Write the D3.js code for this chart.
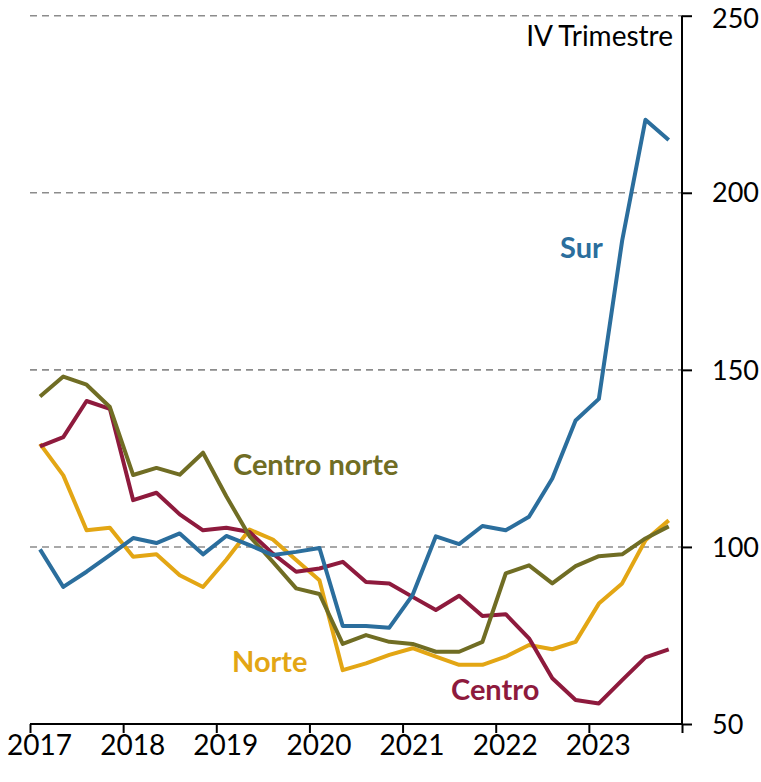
<!DOCTYPE html>
<html>
<head>
<meta charset="utf-8">
<script src="https://cdn.jsdelivr.net/npm/d3@7"></script>
<style>
  body { margin: 0; background: #fff; }
  text { font-family: Lato, "Open Sans", sans-serif; }
</style>
</head>
<body>
<div id="app"></div>
<script>
// quarters 2017Q1 .. 2023Q4
const years = [2017, 2018, 2019, 2020, 2021, 2022, 2023];
const yTicks = [50, 100, 150, 200, 250];

const sur = [99.3, 88.7, 93, 97.7, 102.5, 101.1, 103.8, 97.9, 103.1, 100.5, 97.7, 98.6, 99.7, 77.7,
  77.7, 77.2, 86.4, 103, 100.8, 105.9, 104.7, 108.5, 119.3, 135.7, 141.8, 186.5, 220.6, 214.9];
const centroNorte = [142.5, 148.1, 145.8, 139.5, 120.3, 122.3, 120.4, 126.6, 114.3, 103, 95.8, 88.3, 86.7, 72.6,
  75.1, 73.2, 72.6, 70.4, 70.4, 73.2, 92.5, 94.8, 89.7, 94.6, 97.4, 97.9, 102.4, 105.8];
const centro = [128.4, 131, 141.2, 139, 113.2, 115.3, 109.2, 104.7, 105.4, 104.2, 98.1, 93, 93.9, 95.8,
  90.1, 89.7, 85.9, 82.2, 86.2, 80.5, 81, 74.2, 62.9, 56.8, 55.8, 62.4, 68.8, 71.1];
const norte = [129.1, 120.2, 104.7, 105.4, 97.2, 97.9, 92, 88.7, 96.4, 104.9, 102.1, 96.3, 90.6, 65.2,
  67.1, 69.5, 71.4, 69, 66.7, 66.7, 69, 72.3, 71.1, 73.2, 84, 89.7, 101.9, 107.5];

const series = [
  { name: "Norte", values: norte, color: "#E3A614", label: [232, 672] },
  { name: "Centro", values: centro, color: "#8E1A3D", label: [451, 700] },
  { name: "Centro norte", values: centroNorte, color: "#706D24", label: [233, 475] },
  { name: "Sur", values: sur, color: "#2B6E9D", label: [560, 258] }
];

const W = 761, H = 782;
const svg = d3.select("#app").append("svg").attr("width", W).attr("height", H);

const x = d3.scaleLinear().domain([0, 28]).range([30, 682]);
const y = d3.scaleLinear().domain([50, 250]).range([724, 15.7]);

// dashed grid
svg.append("g")
  .selectAll("line")
  .data(yTicks.filter((d) => d > 50))
  .enter()
  .append("line")
  .attr("x1", x(0)).attr("x2", x(28))
  .attr("y1", (d) => y(d)).attr("y2", (d) => y(d))
  .attr("stroke", "#8c8c8c").attr("stroke-width", 1.6)
  .attr("stroke-dasharray", "7,5");

// lines
const line = d3.line()
  .x((d, i) => x(i + 0.43))
  .y((d) => y(d));

series.forEach((s) => {
  svg.append("path")
    .datum(s.values)
    .attr("d", line)
    .attr("fill", "none")
    .attr("stroke", s.color)
    .attr("stroke-width", 4)
    .attr("stroke-linejoin", "round");
  svg.append("text")
    .attr("x", s.label[0]).attr("y", s.label[1])
    .attr("fill", s.color)
    .attr("font-size", 29)
    .attr("font-weight", "bold")
    .text(s.name);
});

// bottom axis
const xAxis = d3.axisBottom(x)
  .tickValues(years.map((d, i) => i * 4).concat([28]))
  .tickSize(9)
  .tickFormat((d) => (d < 28 ? years[d / 4] : ""));
const gx = svg.append("g").attr("transform", `translate(0,${y(50)})`).call(xAxis);
gx.select(".domain").attr("stroke-width", 2).attr("d", `M${x(0)},0H${x(28)}`);
gx.selectAll(".tick line").attr("stroke-width", 2);
gx.selectAll(".tick text")
  .attr("font-size", 28).attr("fill", "#000")
  .attr("dx", 9).attr("dy", 19);

// right axis
const yAxis = d3.axisRight(y).tickValues(yTicks).tickSize(10);
const gy = svg.append("g").attr("transform", `translate(${x(28)},0)`).call(yAxis);
gy.select(".domain").attr("stroke-width", 2).attr("d", `M0,${y(250)}V${y(50)}`);
gy.selectAll(".tick line").attr("stroke-width", 2);
gy.selectAll(".tick text")
  .attr("font-size", 27).attr("fill", "#000").attr("x", 30)
  .attr("dy", (d) => (d === 250 ? "0.44em" : "0.34em"));

svg.append("text")
  .attr("x", 673).attr("y", 46)
  .attr("text-anchor", "end")
  .attr("font-size", 28)
  .text("IV Trimestre");
</script>
</body>
</html>
